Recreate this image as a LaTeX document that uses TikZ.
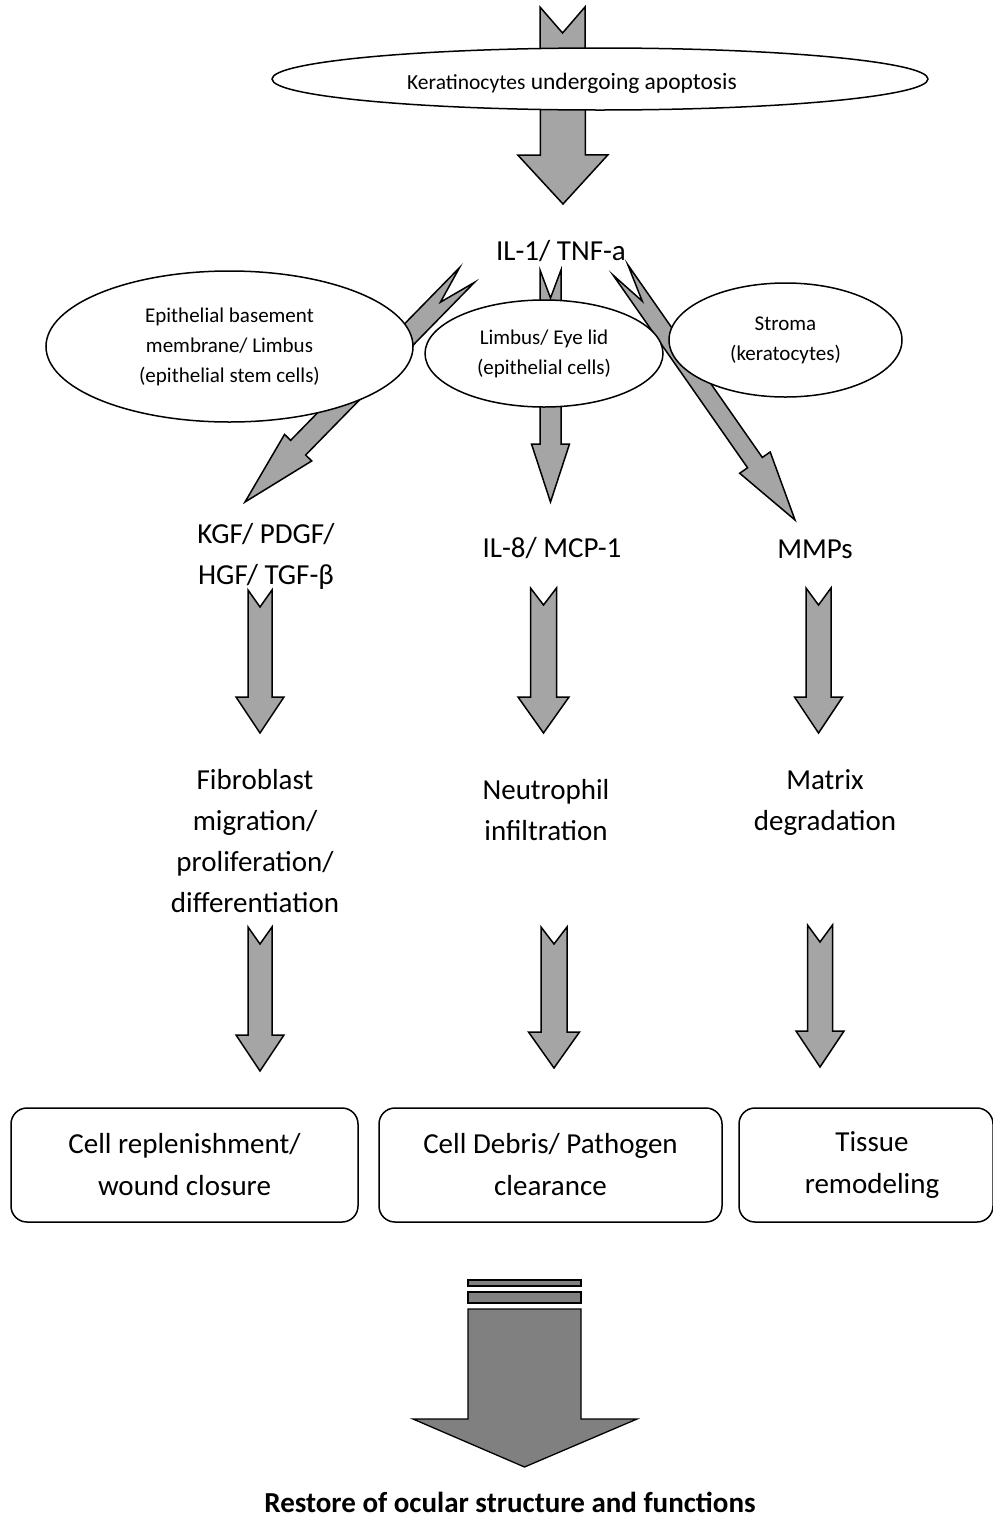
\documentclass[tikz,border=0pt]{standalone}
\usepackage{fontspec}
\setmainfont{Carlito}
\usetikzlibrary{shapes.geometric,calc}
\definecolor{arrgray}{HTML}{A5A5A5}
\definecolor{bigarrgray}{HTML}{808080}
% #1 tail coord, #2 tip coord, #3 shaft half width, #4 head half width, #5 head length, #6 notch depth, #7 fill
\newcommand{\notcharrow}[7]{%
  \coordinate (#1h) at ($(#2)!#5!(#1)$);
  \coordinate (#1n) at ($(#1)!#6!(#2)$);
  \path[blk,fill=#7] ($(#1)!#3!90:(#2)$) -- (#1n) -- ($(#1)!#3!-90:(#2)$)
    -- ($(#1h)!#3!-90:(#2)$) -- ($(#1h)!#4!-90:(#2)$) -- (#2)
    -- ($(#1h)!#4!90:(#2)$) -- ($(#1h)!#3!90:(#2)$) -- cycle;
}
\begin{document}
\begin{tikzpicture}[x=1pt,y=-1pt,
  blk/.style={draw=black,line width=1.5pt,line join=miter},
  ell/.style={ellipse,draw=black,line width=1.5pt,fill=white,inner sep=0pt,align=center,font=\fontsize{21}{30}\selectfont},
  lbl/.style={inner sep=0pt,align=center,font=\fontsize{29}{41}\selectfont},
  box/.style={draw=black,line width=1.5pt,rounded corners=16pt,fill=white,align=center,inner sep=0pt,font=\fontsize{29}{42}\selectfont}]
\useasboundingbox (0,0) rectangle (993,1537);
\fill[white] (0,0) rectangle (993,1537);

% ---------- arrows (behind ellipses) ----------
\coordinate (ta) at (562.5,7);   \coordinate (tb) at (563,204);
\notcharrow{ta}{tb}{22.5pt}{45pt}{49pt}{26pt}{arrgray}

\coordinate (la) at (467,275);   \coordinate (lb) at (245,502);
\notcharrow{la}{lb}{10.5pt}{19pt}{76pt}{38pt}{arrgray}

\coordinate (ma) at (550.5,270); \coordinate (mb) at (550.5,502);
\notcharrow{ma}{mb}{10.5pt}{19pt}{58pt}{28pt}{arrgray}

\coordinate (ra) at (620.5,270); \coordinate (rb) at (795,520);
\notcharrow{ra}{rb}{9pt}{18.6pt}{70pt}{38pt}{arrgray}

% ---------- top ellipse ----------
\node[ell,minimum width=656pt,minimum height=62pt] (kell) at (600,79) {};
\node[inner sep=0pt,anchor=base,font=\fontsize{23.5}{28}\selectfont] (kerat) at (572,89)
  {{\fontsize{21.5}{26}\selectfont Keratinocytes} undergoing apoptosis};

% ---------- IL-1 ----------
\node[lbl,anchor=base] (il1) at (561,260) {IL-1/ TNF-a};

% ---------- site ellipses ----------
\node[ell,minimum width=367pt,minimum height=151pt] (epi) at (229.5,346.5)
  {Epithelial basement\\membrane/ Limbus\\(epithelial stem cells)};
\node[ell,minimum width=238pt,minimum height=107pt] (lid) at (544,353.5)
  {Limbus/ Eye lid\\(epithelial cells)};
\node[ell,minimum width=233pt,minimum height=114pt] (stroma) at (785.5,340)
  {Stroma\\(keratocytes)};

% ---------- mediators ----------
\node[lbl] (kgf) at (266,556) {KGF/ PDGF/\\HGF/ TGF-β};
\node[lbl,anchor=base] (il8) at (552,557) {IL-8/ MCP-1};
\node[lbl,anchor=base] (mmp) at (815,558) {MMPs};

% ---------- row 2 arrows ----------
\coordinate (p1a) at (260,590);   \coordinate (p1b) at (260,733);
\notcharrow{p1a}{p1b}{12pt}{24pt}{36pt}{17pt}{arrgray}
\coordinate (p2a) at (543.5,588); \coordinate (p2b) at (543.5,733);
\notcharrow{p2a}{p2b}{13pt}{25.5pt}{36pt}{17pt}{arrgray}
\coordinate (p3a) at (818.5,588); \coordinate (p3b) at (818.5,733);
\notcharrow{p3a}{p3b}{12.5pt}{24pt}{36pt}{17pt}{arrgray}

% ---------- processes ----------
\node[lbl] (fib) at (255,841) {Fibroblast\\migration/\\proliferation/\\differentiation};
\node[lbl] (neu) at (546,810) {Neutrophil\\infiltration};
\node[lbl] (mat) at (825,803) {Matrix\\degradation};

% ---------- row 4 arrows ----------
\coordinate (q1a) at (260,927);   \coordinate (q1b) at (260,1071);
\notcharrow{q1a}{q1b}{12pt}{24pt}{36pt}{17pt}{arrgray}
\coordinate (q2a) at (554,927);   \coordinate (q2b) at (554,1068);
\notcharrow{q2a}{q2b}{13pt}{25.5pt}{36pt}{17pt}{arrgray}
\coordinate (q3a) at (820,925);   \coordinate (q3b) at (820,1067);
\notcharrow{q3a}{q3b}{12.5pt}{24pt}{36pt}{17pt}{arrgray}

% ---------- outcome boxes ----------
\node[box,minimum width=347pt,minimum height=114pt] (cell) at (184.5,1165) {Cell replenishment/\\wound closure};
\node[box,minimum width=343pt,minimum height=114pt] (debris) at (550.5,1165) {Cell Debris/ Pathogen\\clearance};
\node[box,minimum width=254pt,minimum height=114pt] (tissue) at (866,1165) {\hspace*{12pt}Tissue\\\hspace*{12pt}remodeling};

% ---------- final arrow ----------
\coordinate (fa) at (524.5,1309); \coordinate (fb) at (524.5,1467);
\path[blk,fill=bigarrgray,line width=1.3pt] (468,1280) rectangle (581,1286);
\path[blk,fill=bigarrgray,line width=1.3pt] (468,1292) rectangle (581,1303);
\path[blk,fill=bigarrgray,line width=1.3pt] ($(fa)+(-56.5,0)$) -- ($(fa)+(56.5,0)$) -- ($(fa)+(56.5,110)$)
  -- ($(fa)+(112.5,110)$) -- (fb) -- ($(fa)+(-111.5,110)$) -- ($(fa)+(-56.5,110)$) -- cycle;

\node[inner sep=0pt,anchor=base,font=\fontsize{29}{36}\selectfont\bfseries] (restore) at (510,1512)
  {Restore of ocular structure and functions};
\end{tikzpicture}
\end{document}
